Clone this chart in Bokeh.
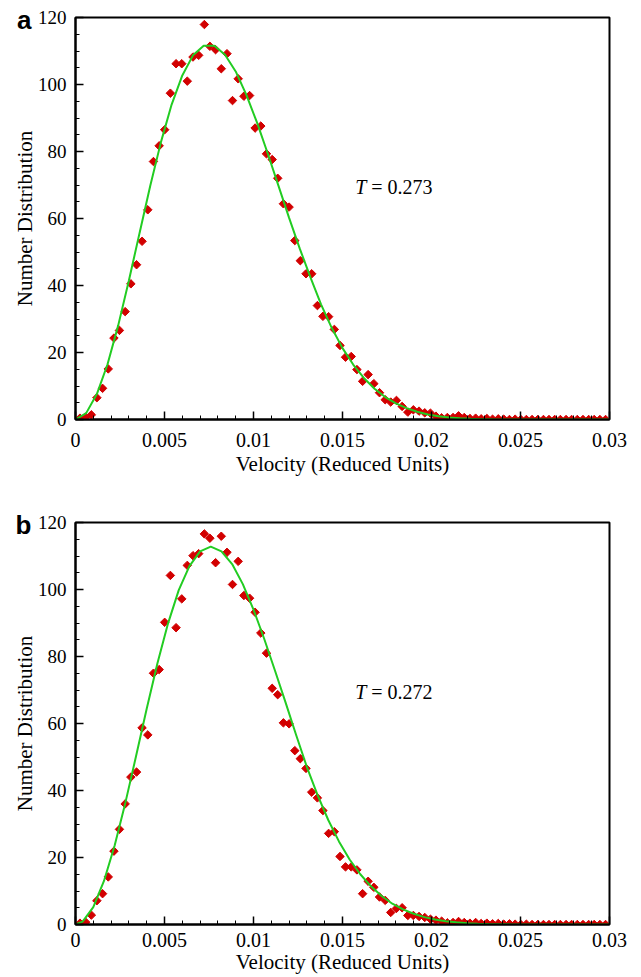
from bokeh.plotting import figure
from bokeh.layouts import column
from bokeh.models import Range1d, FixedTicker, Label, LinearAxis
from bokeh.embed import file_html
from bokeh.resources import INLINE

# ---- data ----
velocity = [
    0.00025, 0.00057, 0.00089, 0.00120, 0.00152, 0.00184, 0.00216, 0.00247, 0.00279, 0.00311,
    0.00343, 0.00374, 0.00406, 0.00438, 0.00470, 0.00501, 0.00533, 0.00565, 0.00597, 0.00628,
    0.00660, 0.00692, 0.00724, 0.00755, 0.00787, 0.00819, 0.00851, 0.00882, 0.00914, 0.00946,
    0.00978, 0.01009, 0.01041, 0.01073, 0.01105, 0.01136, 0.01168, 0.01200, 0.01232, 0.01263,
    0.01295, 0.01327, 0.01359, 0.01390, 0.01422, 0.01454, 0.01486, 0.01517, 0.01549, 0.01581,
    0.01613, 0.01644, 0.01676, 0.01708, 0.01740, 0.01771, 0.01803, 0.01835, 0.01867, 0.01898,
    0.01930, 0.01962, 0.01994, 0.02025, 0.02057, 0.02089, 0.02121, 0.02152, 0.02184, 0.02216,
    0.02248, 0.02279, 0.02311, 0.02343, 0.02375, 0.02406, 0.02438, 0.02470, 0.02502, 0.02533,
    0.02565, 0.02597, 0.02629, 0.02660, 0.02692, 0.02724, 0.02756, 0.02787, 0.02819, 0.02851,
    0.02883, 0.02914, 0.02946, 0.02978,
]

count_a = [
    0.4, 0.7, 1.4, 6.5, 9.3, 15.1, 24.3, 26.6, 32.2, 40.5,
    46.2, 53.2, 62.6, 77.0, 81.7, 86.5, 97.4, 106.2, 106.2, 101.0,
    108.2, 108.7, 117.9, 111.4, 110.4, 104.7, 109.2, 95.2, 101.7, 96.5,
    96.7, 87.0, 87.6, 79.3, 77.6, 72.0, 64.4, 63.4, 53.4, 47.4,
    43.5, 43.5, 34.0, 30.8, 30.7, 26.9, 22.1, 18.6, 18.8, 14.9,
    11.4, 13.4, 10.7, 8.0, 5.9, 5.2, 5.7, 3.9, 2.2, 2.9,
    2.5, 2.0, 1.9, 1.0, 0.5, 0.6, 0.6, 1.1, 0.6, 0.3,
    0.4, 0.2, 0.3, 0.1, 0.2, 0.1, 0.0, 0.1, 0.0, 0.0,
    0.0, 0.0, 0.0, 0.0, 0.0, 0.0, 0.0, 0.0, 0.0, 0.0,
    0.0, 0.0, 0.0, 0.0,
]

count_b = [
    0.4, 0.7, 2.8, 7.1, 9.2, 14.2, 21.9, 28.4, 36.0, 44.0,
    45.5, 58.7, 56.6, 75.0, 76.1, 90.2, 104.2, 88.6, 97.2, 107.2,
    110.1, 110.7, 116.6, 115.3, 108.0, 115.9, 111.1, 101.5, 108.4, 98.2,
    97.4, 93.2, 87.0, 81.0, 70.5, 68.6, 60.2, 59.9, 51.9, 49.5,
    46.6, 39.5, 37.8, 34.0, 27.2, 27.7, 20.3, 17.2, 17.2, 16.3,
    9.2, 12.9, 11.1, 8.2, 7.2, 3.6, 4.8, 5.0, 2.7, 2.7,
    2.4, 2.1, 1.6, 1.3, 1.0, 0.5, 0.6, 0.9, 0.6, 0.4,
    0.6, 0.3, 0.4, 0.2, 0.3, 0.1, 0.2, 0.1, 0.0, 0.1,
    0.0, 0.0, 0.0, 0.0, 0.0, 0.0, 0.0, 0.0, 0.0, 0.0,
    0.0, 0.0, 0.0, 0.0,
]

fit_v_a = [
    0.0, 0.0006, 0.0012, 0.0018, 0.0024, 0.0030, 0.0036, 0.0042, 0.0048, 0.0054,
    0.0060, 0.0066, 0.0072, 0.0078, 0.0084, 0.0090, 0.0096, 0.0102, 0.0108, 0.0114,
    0.0120, 0.0126, 0.0132, 0.0138, 0.0144, 0.0150, 0.0156, 0.0162, 0.0168, 0.0174,
    0.0180, 0.0186, 0.0192, 0.0198, 0.0204, 0.0210, 0.0216, 0.0222, 0.0228, 0.0234,
    0.0240, 0.0246, 0.0252, 0.0258, 0.0264, 0.0270, 0.0276, 0.0282, 0.0288, 0.0294,
    0.0300,
]
fit_a = [
    0.0, 1.9, 7.6, 16.5, 28.1, 41.5, 55.7, 69.8, 82.8, 94.0,
    102.7, 108.7, 111.6, 111.6, 108.9, 103.9, 96.9, 88.6, 79.4, 69.8,
    60.2, 51.0, 42.4, 34.3, 27.3, 21.3, 16.4, 12.4, 9.2, 6.7,
    4.8, 3.4, 2.3, 1.5, 0.95, 0.6, 0.35, 0.2, 0.1, 0.05,
    0.02, 0.0, 0.0, 0.0, 0.0, 0.0, 0.0, 0.0, 0.0, 0.0,
    0.0,
]

fit_v_b = [
    0.0, 0.0004, 0.0010, 0.0016, 0.0022, 0.0028, 0.0034, 0.0040, 0.0046, 0.0052,
    0.0058, 0.0064, 0.0070, 0.0076, 0.0082, 0.0088, 0.0094, 0.0100, 0.0106, 0.0112,
    0.0118, 0.0124, 0.0130, 0.0136, 0.0142, 0.0148, 0.0154, 0.0160, 0.0166, 0.0172,
    0.0178, 0.0184, 0.0190, 0.0196, 0.0202, 0.0208, 0.0214, 0.0220, 0.0226, 0.0232,
    0.0238, 0.0244, 0.0250, 0.0256, 0.0262, 0.0268, 0.0274, 0.0280, 0.0286, 0.0292,
    0.0298, 0.0300,
]
fit_b = [
    0.0, 0.85, 5.2, 13.0, 23.6, 36.3, 50.2, 64.4, 77.9, 89.9,
    99.8, 107.0, 111.4, 112.8, 111.4, 107.6, 101.6, 94.0, 85.3, 75.9,
    66.3, 56.5, 47.0, 38.6, 31.2, 24.8, 19.4, 15.0, 11.4, 8.5,
    6.2, 4.5, 3.2, 2.2, 1.5, 1.0, 0.65, 0.4, 0.25, 0.15,
    0.08, 0.04, 0.02, 0.0, 0.0, 0.0, 0.0, 0.0, 0.0, 0.0,
    0.0, 0.0,
]

x_ticks = [0, 0.005, 0.01, 0.015, 0.02, 0.025, 0.03]
x_tick_labels = ["0", "0.005", "0.01", "0.015", "0.02", "0.025", "0.03"]
y_ticks = [0, 20, 40, 60, 80, 100, 120]
y_tick_labels = ["0", "20", "40", "60", "80", "100", "120"]
panel_letters = ["a", "b"]
temperatures = ["0.273", "0.272"]

x_minor = [round(i * 0.001, 3) for i in range(31)]
y_minor = [i * 5 for i in range(25)]

SERIF = "'Liberation Serif', 'Times New Roman', serif"
RED = "#d20000"
GREEN = "#22cc22"


def make_panel(counts, fit_v, fit_y, letter, temp, height, top, lab_standoff, ax_standoff):
    frame_h = 402
    p = figure(width=641, height=height,
               x_range=Range1d(0, 0.03), y_range=Range1d(0, 120),
               output_backend="svg", toolbar_location=None,
               min_border_left=75, min_border_right=32,
               min_border_top=top, min_border_bottom=height - top - frame_h,
               background_fill_color="white", border_fill_color="white")
    p.xgrid.visible = False
    p.ygrid.visible = False
    p.outline_line_color = "black"
    p.outline_line_width = 2
    p.outline_line_alpha = 1.0

    xa = p.below[0]
    ya = p.left[0]
    xa.ticker = FixedTicker(ticks=x_ticks, minor_ticks=x_minor)
    ya.ticker = FixedTicker(ticks=y_ticks, minor_ticks=y_minor)
    xa.major_label_overrides = {t: s for t, s in zip(x_ticks, x_tick_labels)}
    ya.major_label_overrides = {t: s for t, s in zip(y_ticks, y_tick_labels)}

    for ax in (xa, ya):
        ax.axis_line_width = 2
        ax.axis_line_color = "black"
        ax.major_tick_in = 8
        ax.major_tick_out = 0
        ax.minor_tick_in = 4
        ax.minor_tick_out = 0
        ax.major_tick_line_color = "black"
        ax.minor_tick_line_color = "black"
        ax.major_tick_line_width = 1.5
        ax.minor_tick_line_width = 1
        ax.major_label_text_color = "black"
        ax.axis_label_text_font_style = "normal"
        ax.axis_label_text_color = "black"
        ax.axis_label_text_font_size = "21px"
        ax.major_label_text_font = SERIF
        ax.axis_label_text_font = SERIF

    xa.major_label_text_font_size = "20px"
    ya.major_label_text_font_size = "19px"
    xa.major_label_standoff = lab_standoff
    xa.axis_label_standoff = ax_standoff
    ya.major_label_standoff = 9
    ya.axis_label_standoff = -2
    xa.axis_label = "Velocity (Reduced Units)"
    ya.axis_label = "Number Distribution"

    # panel letter carried by an extra, line-less left axis with a single tick at the top
    letter_axis = LinearAxis(ticker=FixedTicker(ticks=[119.4], minor_ticks=[]),
                             major_label_overrides={119.4: letter},
                             axis_line_color=None, major_tick_line_color=None,
                             minor_tick_line_color=None,
                             major_tick_in=0, major_tick_out=0,
                             minor_tick_in=0, minor_tick_out=0,
                             major_label_text_font="'Liberation Sans', Arial, sans-serif",
                             major_label_text_font_style="bold",
                             major_label_text_font_size="26px",
                             major_label_text_color="black",
                             major_label_standoff=-22)
    p.add_layout(letter_axis, "left")

    p.scatter(velocity, counts, marker="square", angle=0.785398, size=6,
              fill_color=RED, line_color=RED, line_width=1)
    p.line(fit_v, fit_y, line_color=GREEN, line_width=2)

    p.add_layout(Label(x=0.01571, y=69.4, text="T", text_font=SERIF,
                       text_font_style="italic", text_font_size="20px",
                       text_color="black", text_align="left", text_baseline="alphabetic"))
    p.add_layout(Label(x=0.01571, y=69.4, x_offset=16, text="= " + temp, text_font=SERIF,
                       text_font_size="20px", text_color="black",
                       text_align="left", text_baseline="alphabetic"))
    return p


pa = make_panel(count_a, fit_v_a, fit_a, panel_letters[0], temperatures[0],
                height=488, top=17, lab_standoff=13, ax_standoff=2)
pb = make_panel(count_b, fit_v_b, fit_b, panel_letters[1], temperatures[1],
                height=489, top=34, lab_standoff=8, ax_standoff=0)

layout = column(pa, pb, spacing=0)
open("out.html", "w").write(file_html(layout, INLINE))
